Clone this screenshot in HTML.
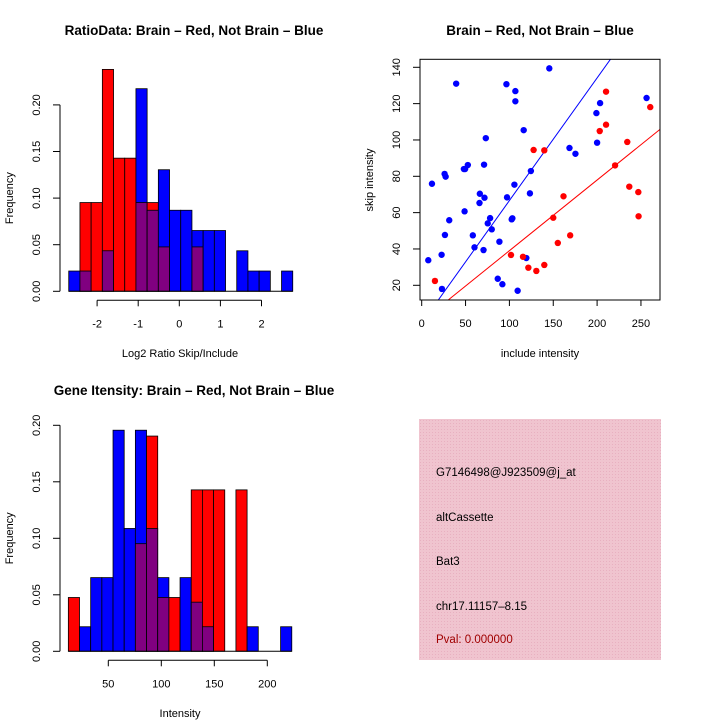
<!DOCTYPE html>
<html><head><meta charset="utf-8"><style>
html,body{margin:0;padding:0;background:#fff;}
svg{display:block;font-family:"Liberation Sans",Arial,sans-serif;}
</style></head><body>
<svg id="c" width="720" height="720" viewBox="0 0 720 720">
<defs>
<pattern id="hatch" width="3" height="3" patternUnits="userSpaceOnUse">
<rect width="3" height="3" fill="#f0c4cf"/><rect width="1" height="1" fill="#e8b0c0"/>
</pattern>
</defs>
</svg>
<script>
// Ratio histogram (top-left): bin proportions
const ratioBlue=[1/46,1/46,0,2/46,0,0,10/46,4/46,6/46,4/46,4/46,3/46,3/46,3/46,0,2/46,1/46,1/46,0,1/46];
const ratioRed=[0,2/21,2/21,5/21,3/21,3/21,2/21,2/21,1/21,0,0,1/21,0,0,0,0,0,0,0,0];
const ratioBreakStart=-2.69, ratioBinW=0.2725;
const ratioXTicks=[-2,-1,0,1,2];
const freqTicks=["0.00","0.05","0.10","0.15","0.20"];
// Intensity histogram (bottom-left)
const intBlue=[0,1/46,3/46,3/46,9/46,5/46,9/46,5/46,3/46,0,3/46,2/46,1/46,0,0,0,1/46,0,0,1/46];
const intRed=[1/21,0,0,0,0,0,2/21,4/21,1/21,1/21,0,3/21,3/21,3/21,0,3/21,0,0,0,0];
const intBreakStart=12.3, intBinW=10.54;
const intXTicks=[50,100,150,200];
// Scatter (top-right)
const blueX=[145.5,39.3,96.6,106.8,106.8,256.4,203.4,199.2,116.3,73.1,200,168.5,175.3,52.6,48.1,49.5,71.1,124.5,26.1,27.3,11.7,105.7,66.3,71.6,97.3,123.4,65.9,48.9,103.4,102.6,78,75.3,79.9,31.4,26.5,58.3,60.2,70.5,88.6,22.7,7.5,119.3,86.7,92,23.1,109.4];
const blueY=[139.4,131,130.7,126.9,121.3,123.1,120.3,114.8,105.4,101,98.5,95.6,92.4,86.2,84,84,86.4,82.9,81.3,79.8,75.9,75.4,70.4,68.2,68.4,70.6,65.3,60.7,56.9,56.3,57,54.1,50.8,55.8,47.7,47.5,40.9,39.4,44,36.8,33.8,35,23.6,20.6,18,17];
const redX=[210.2,260.6,210.2,203,234.4,127.6,139.8,220.5,236.7,247,161.7,150,247.3,169.3,155.2,101.8,115.5,121.6,130.7,139.8,15.1];
const redY=[126.6,118.1,108.4,104.9,98.9,94.5,94.3,86,74.3,71.3,69,57.2,58,47.5,43.3,36.7,35.7,29.7,27.9,31.2,22.4];
const blueFit=[-0.86,0.675]; // intercept, slope
const redFit=[0.15,0.389];
const scXTicks=[0,50,100,150,200,250];
const scYTicks=[20,40,60,80,100,120,140];

const svg=document.getElementById('c');
const NS='http://www.w3.org/2000/svg';
function el(tag,attrs,parent){const e=document.createElementNS(NS,tag);for(const k in attrs)e.setAttribute(k,attrs[k]);(parent||svg).appendChild(e);return e;}
function txt(s,x,y,attrs,parent){const t=el('text',Object.assign({x:x,y:y},attrs),parent);t.textContent=s;return t;}

function hist(name,blue,red,bStart,bW,xMap,y0,yScale,xTicks,title,titleY,xlab,xlabY){
  const g=el('g',{});
  
  
  const yMap=v=>y0-v*yScale;
  for(let i=0;i<blue.length;i++){
    const x0=xMap(bStart+i*bW), x1=xMap(bStart+(i+1)*bW);
    const b=blue[i], r=red[i], mx=Math.max(b,r), mn=Math.min(b,r);
    if(mx<=0) continue;
    const topCol=b>=r?'#0000ff':'#ff0000';
    const rt=el('rect',{x:x0,y:yMap(mx),width:x1-x0,height:mx*yScale,fill:topCol,stroke:'#000','stroke-width':0.8},g);
    
    
    if(mn>0){
      const pr=el('rect',{x:x0,y:yMap(mn),width:x1-x0,height:mn*yScale,fill:'#800080',stroke:'#000','stroke-width':0.8},g);
      
      
    }
  }
  el('line',{x1:xMap(bStart),x2:xMap(bStart+blue.length*bW),y1:y0,y2:y0,stroke:'#000','stroke-width':1},g);
  const ax=el('g',{},g);
  
  
  const axY=y0+9;
  el('line',{x1:xMap(xTicks[0]),x2:xMap(xTicks[xTicks.length-1]),y1:axY,y2:axY,stroke:'#000'},ax);
  xTicks.forEach(t=>{const x=xMap(t);el('line',{x1:x,x2:x,y1:axY,y2:axY+6,stroke:'#000'},ax);txt(String(t),x,axY+27,{'font-size':11,'text-anchor':'middle'},ax);});
  const ay=el('g',{},g);
  
  
  el('line',{x1:60,x2:60,y1:yMap(0),y2:yMap(0.2),stroke:'#000'},ay);
  freqTicks.forEach(t=>{const y=yMap(parseFloat(t));el('line',{x1:53,x2:60,y1:y,y2:y,stroke:'#000'},ay);txt(t,40,y,{'font-size':11,'text-anchor':'middle',transform:'rotate(-90 40 '+y+')'},ay);});
  const yl=txt('Frequency',13,(yMap(0)+yMap(0.2))/2,{'font-size':11,'text-anchor':'middle',transform:'rotate(-90 13 '+(yMap(0)+yMap(0.2))/2+')'},g);
  
  
  const tt=txt(title,194,titleY,{'font-size':13.5,'font-weight':'bold','text-anchor':'middle'},g);
  
  
  const xl=txt(xlab,180,xlabY,{'font-size':11,'text-anchor':'middle'},g);
  
  
}
hist('ratio-histogram',ratioBlue,ratioRed,ratioBreakStart,ratioBinW,v=>179.3+v*41.1,291.3,932,ratioXTicks,'RatioData: Brain \u2013 Red, Not Brain \u2013 Blue',35,'Log2 Ratio Skip/Include',357);
hist('intensity-histogram',intBlue,intRed,intBreakStart,intBinW,v=>108.3+(v-50)*1.06,651.3,1130,intXTicks,'Gene Itensity: Brain \u2013 Red, Not Brain \u2013 Blue',395,'Intensity',717);

// Scatter
const sg=el('g',{});


const sx=v=>421.7+v*0.877, sy=v=>285.3-(v-20)*1.8167;
const L=420,R=660,T=59.3,B=300;
const cp=el('clipPath',{id:'clip'},sg);
el('rect',{x:L,y:T,width:R-L,height:B-T},cp);
function fit(f,col,name){const xa=-50,xb=350;const l=el('line',{x1:sx(xa),y1:sy(f[0]+f[1]*xa),x2:sx(xb),y2:sy(f[0]+f[1]*xb),stroke:col,'stroke-width':1,'clip-path':'url(#clip)'},sg);}
fit(blueFit,'#0000ff','blue-fit-line');fit(redFit,'#ff0000','red-fit-line');
blueX.forEach((x,i)=>{const c=el('circle',{cx:sx(x),cy:sy(blueY[i]),r:3.2,fill:'#0000ff'},sg);});
redX.forEach((x,i)=>{const c=el('circle',{cx:sx(x),cy:sy(redY[i]),r:3.2,fill:'#ff0000'},sg);});
el('rect',{x:L,y:T,width:R-L,height:B-T,fill:'none',stroke:'#000'},sg);
const sxa=el('g',{},sg);


scXTicks.forEach(t=>{const x=sx(t);el('line',{x1:x,x2:x,y1:B,y2:B+6,stroke:'#000'},sxa);txt(String(t),x,B+27,{'font-size':11,'text-anchor':'middle'},sxa);});
const sya=el('g',{},sg);


scYTicks.forEach(t=>{const y=sy(t);el('line',{x1:L-7,x2:L,y1:y,y2:y,stroke:'#000'},sya);txt(String(t),400,y,{'font-size':11,'text-anchor':'middle',transform:'rotate(-90 400 '+y+')'},sya);});
const st=txt('Brain \u2013 Red, Not Brain \u2013 Blue',540,35,{'font-size':13.5,'font-weight':'bold','text-anchor':'middle'},sg);


const sxl=txt('include intensity',540,357,{'font-size':11,'text-anchor':'middle'},sg);


const syl=txt('skip intensity',373,180,{'font-size':11,'text-anchor':'middle',transform:'rotate(-90 373 180)'},sg);



// Info panel
const ig=el('g',{});


el('rect',{x:419,y:419,width:242,height:241,fill:'url(#hatch)'},ig);
const lines=[['G7146498@J923509@j_at',476,'#000','probe-id'],['altCassette',521,'#000','event-type'],['Bat3',565,'#000','gene-name'],['chr17.11157\u20138.15',610,'#000','location'],['Pval: 0.000000',643,'#a00000','p-value']];
lines.forEach(l=>{const t=txt(l[0],436,l[1],{'font-size':11.5,fill:l[2]},ig);});
</script>
</body></html>
